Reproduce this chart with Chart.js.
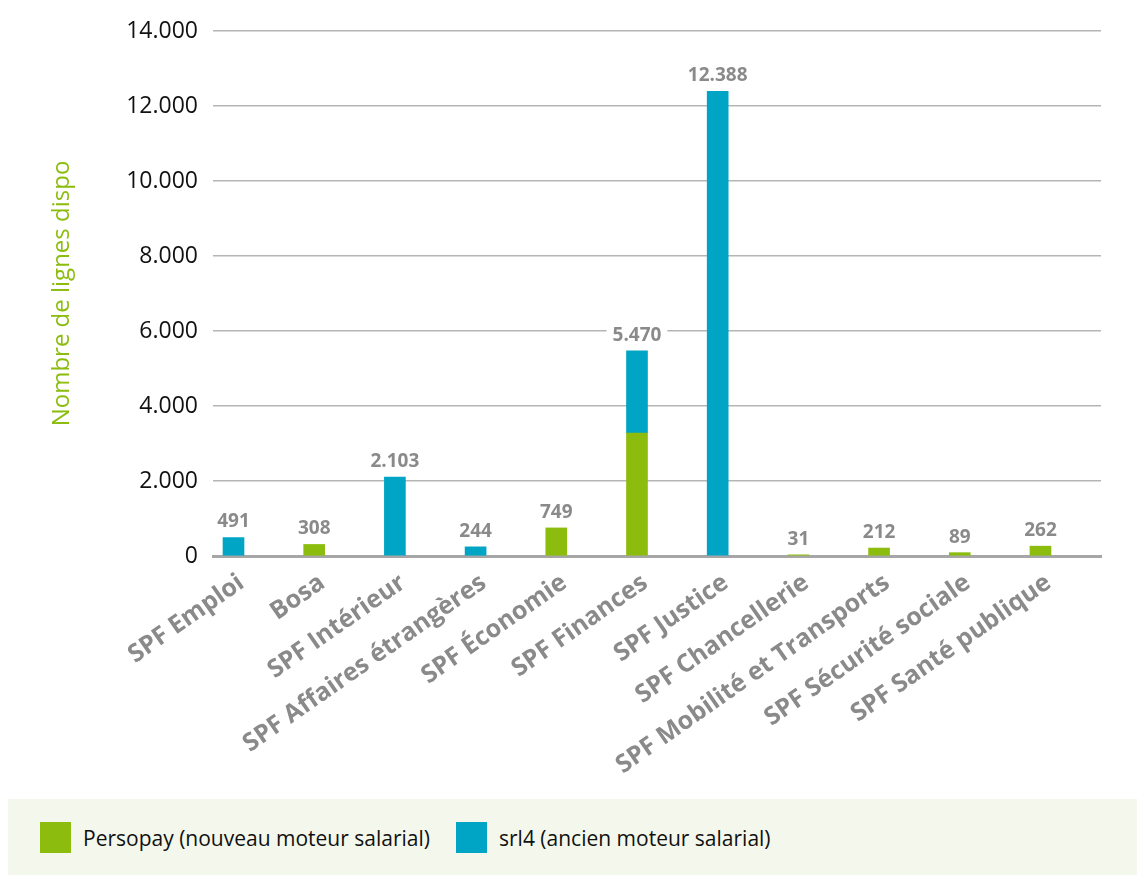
<!DOCTYPE html>
<html lang="fr">
<head>
<meta charset="utf-8">
<title>Nombre de lignes dispo</title>
<script src="https://cdn.jsdelivr.net/npm/chart.js@4.4.1/dist/chart.umd.min.js"></script>
<style>
    body { margin: 0; background: #fff; font-family: "Open Sans", sans-serif; }
    #wrap { position: relative; width: 1137px; height: 875px; overflow: hidden; }
    #chart-box { position: absolute; left: 0; top: 0; width: 1137px; height: 795px; }
    #legend {
        position: absolute; left: 8px; top: 799px; width: 1129px; height: 76px;
        background: #f4f8ec;
    }
    .item { position: absolute; top: 23px; height: 31px; display: flex; align-items: center; }
    .item span.box { width: 31px; height: 31px; display: inline-block; margin-right: 12px; }
    .item span.txt { font-size: 21px; color: #111; white-space: nowrap; }
</style>
</head>
<body>
<div id="wrap">
    <div id="chart-box"><canvas id="linesChart"></canvas></div>
    <div id="legend">
        <div class="item" style="left:32px"><span class="box" style="background:#8cbd0e"></span><span class="txt">Persopay (nouveau moteur salarial)</span></div>
        <div class="item" style="left:448px"><span class="box" style="background:#00a5c6"></span><span class="txt">srl4 (ancien moteur salarial)</span></div>
    </div>
</div>
<script>
// Categories (SPF / services)
const categories = [
    'SPF Emploi', 'Bosa', 'SPF Intérieur', 'SPF Affaires étrangères', 'SPF Économie',
    'SPF Finances', 'SPF Justice', 'SPF Chancellerie', 'SPF Mobilité et Transports',
    'SPF Sécurité sociale', 'SPF Santé publique'
];

// Persopay (nouveau moteur salarial)
const persopay = [null, 308, null, null, 749, 3280, null, 31, 212, 89, 262];

// srl4 (ancien moteur salarial)
const srl4 = [491, null, 2103, 244, null, 2190, 12388, null, null, null, null];

// Tick labels of the y axis
const yTicks = [0, 2000, 4000, 6000, 8000, 10000, 12000, 14000];

const GREEN = '#8cbd0e';
const BLUE = '#00a5c6';
const GREY_TEXT = '#8a8a8a';
const FONT = '"Open Sans", sans-serif';

// Format number with dot as thousands separator
function fmt(v) {
    return String(Math.round(v)).replace(/\B(?=(\d{3})+(?!\d))/g, '.');
}

// Put each value on its category index (x linear so the band can sit off-centre like the original)
function toPoints(arr) {
    return arr.map((v, i) => ({ x: i, y: v }));
}

// Totals above each stacked bar
const totalLabels = {
    id: 'totalLabels',
    afterDatasetsDraw(chart) {
        const ctx = chart.ctx;
        ctx.save();
        ctx.font = 'bold 19px ' + FONT;
        ctx.textAlign = 'center';
        ctx.textBaseline = 'bottom';
        categories.forEach((cat, i) => {
            let top = null, x = null, total = 0;
            chart.data.datasets.forEach((ds, d) => {
                const v = ds.data[i].y;
                if (v == null) return;
                total += v;
                const el = chart.getDatasetMeta(d).data[i];
                if (top === null || el.y < top) { top = el.y; x = el.x; }
            });
            if (top === null) return;
            const text = fmt(total);
            const w = ctx.measureText(text).width;
            ctx.fillStyle = '#fff';
            ctx.fillRect(x - w / 2 - 6, top - 30, w + 12, 23);
            ctx.fillStyle = GREY_TEXT;
            ctx.fillText(text, x, top - 6);
        });
        ctx.restore();
    }
};

const ctx = document.getElementById('linesChart').getContext('2d');
new Chart(ctx, {
    type: 'bar',
    data: {
        datasets: [
            {
                label: 'Persopay (nouveau moteur salarial)',
                data: toPoints(persopay),
                backgroundColor: GREEN,
                barThickness: 21
            },
            {
                label: 'srl4 (ancien moteur salarial)',
                data: toPoints(srl4),
                backgroundColor: BLUE,
                barThickness: 21
            }
        ]
    },
    options: {
        responsive: true,
        maintainAspectRatio: false,
        animation: false,
        layout: { padding: { top: 31, right: 36, left: 0, bottom: 0 } },
        plugins: {
            legend: { display: false },
            tooltip: { enabled: false }
        },
        scales: {
            x: {
                type: 'linear',
                stacked: true,
                offset: false,
                min: -0.254,
                max: 10.75,
                afterBuildTicks(scale) { scale.ticks = categories.map((c, i) => ({ value: i })); },
                grid: { display: false, drawTicks: false, offset: false },
                border: { color: '#a6a6a6', width: 3 },
                ticks: {
                    color: GREY_TEXT,
                    font: { family: FONT, size: 25, weight: 'bold' },
                    minRotation: 35,
                    maxRotation: 35,
                    autoSkip: false,
                    padding: 12,
                    labelOffset: 8,
                    callback: v => categories[v]
                },
                afterFit(scale) { scale.height = 239; }
            },
            y: {
                stacked: true,
                min: 0,
                max: 14000,
                afterBuildTicks(scale) { scale.ticks = yTicks.map(v => ({ value: v })); },
                grid: { color: '#b5b5b5', lineWidth: 1.5, drawTicks: false },
                border: { display: false },
                ticks: {
                    color: '#111',
                    font: { family: FONT, size: 23 },
                    padding: 15,
                    callback: v => fmt(v)
                },
                title: {
                    display: true,
                    text: 'Nombre de lignes dispo',
                    color: GREEN,
                    font: { family: FONT, size: 24 },
                    padding: { top: 48, bottom: 0 }
                },
                afterFit(scale) { scale.width = 213; }
            }
        }
    },
    plugins: [totalLabels]
});
</script>
</body>
</html>
